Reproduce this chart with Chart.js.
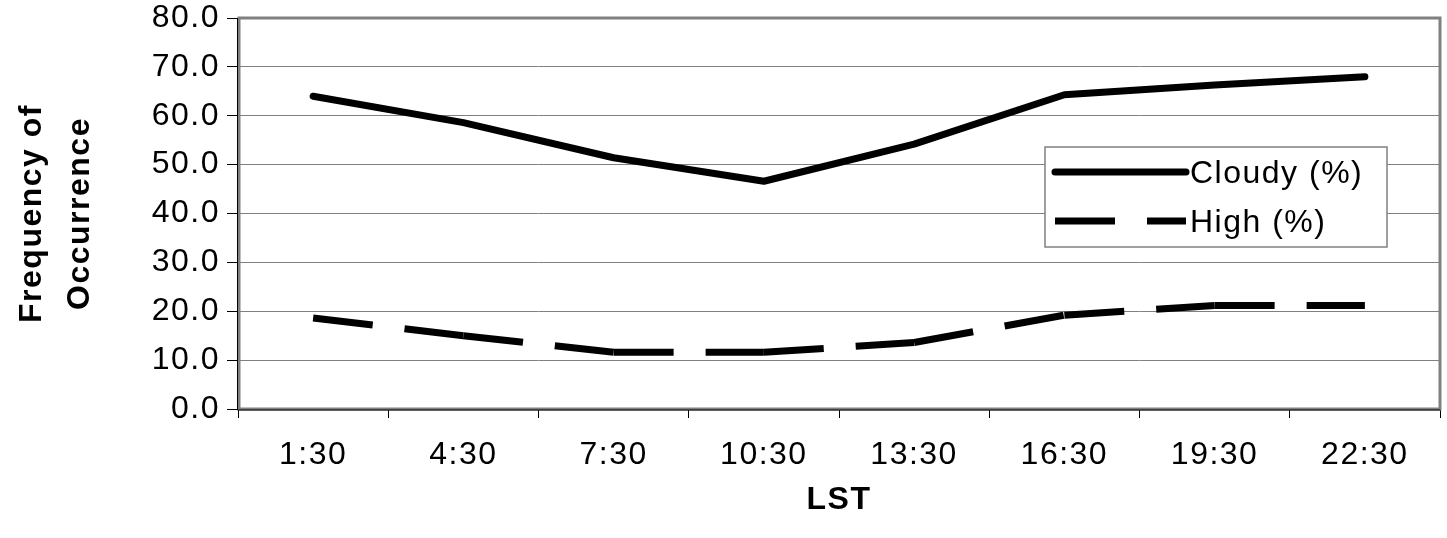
<!DOCTYPE html>
<html><head><meta charset="utf-8">
<script src="https://cdn.jsdelivr.net/npm/chart.js@4"></script>
<style>html,body{margin:0;padding:0;background:#fff;overflow:hidden}</style>
</head><body>
<canvas id="c" width="1447" height="538"></canvas>
<script>
const categories = ['1:30','4:30','7:30','10:30','13:30','16:30','19:30','22:30'];
const cloudy = [64.0, 58.6, 51.4, 46.6, 54.2, 64.3, 66.3, 68.0];
const high = [18.6, 15.0, 11.6, 11.6, 13.6, 19.2, 21.2, 21.2];
const yTickLabels = ['0.0','10.0','20.0','30.0','40.0','50.0','60.0','70.0','80.0'];
const seriesLabels = ['Cloudy (%)','High (%)'];
const xTitle = 'LST';
const yTitle = ['Frequency of','Occurrence'];

const FONT = "'Liberation Sans', Arial, sans-serif";
const LS = '1.5px';

const spacing = {
  id: 'spacing',
  beforeLayout(c){ c.ctx.letterSpacing = LS; },
  beforeDraw(c){ c.ctx.letterSpacing = LS; }
};

const frame = {
  id: 'frame',
  beforeDatasetsDraw(c){
    const {ctx, chartArea:a} = c;
    ctx.save();
    ctx.strokeStyle = '#808080';
    ctx.lineWidth = 3;
    ctx.strokeRect(a.left + 1, a.top, a.right - a.left - 1, a.bottom - a.top);
    ctx.strokeStyle = '#000';
    ctx.lineWidth = 1;
    ctx.beginPath();
    ctx.moveTo(a.left - 0.5, a.top); ctx.lineTo(a.left - 0.5, a.bottom + 1);
    ctx.lineTo(a.right, a.bottom + 1);
    ctx.stroke();
    ctx.restore();
  }
};

const legendBox = {
  id: 'legendBox',
  afterDatasetsDraw(c){
    const ctx = c.ctx;
    const bx = 1045, by = 147, bw = 342, bh = 100;
    ctx.save();
    ctx.letterSpacing = LS;
    ctx.fillStyle = '#fff';
    ctx.fillRect(bx, by, bw, bh);
    ctx.strokeStyle = '#808080';
    ctx.lineWidth = 1.5;
    ctx.strokeRect(bx, by, bw, bh);
    const rows = [172, 221];
    c.data.datasets.forEach((ds, i) => {
      const y = rows[i];
      ctx.strokeStyle = ds.borderColor;
      ctx.lineWidth = ds.borderWidth;
      ctx.lineCap = ds.borderCapStyle || 'butt';
      ctx.setLineDash(ds.borderDash || []);
      ctx.beginPath();
      ctx.moveTo(1055, y);
      ctx.lineTo(1186, y);
      ctx.stroke();
      ctx.setLineDash([]);
      ctx.fillStyle = '#000';
      ctx.font = '32px ' + FONT;
      ctx.textBaseline = 'middle';
      ctx.textAlign = 'left';
      ctx.fillText(ds.label, 1190, y + 2);
    });
    ctx.restore();
  }
};

new Chart(document.getElementById('c'), {
  type: 'line',
  data: {
    labels: categories,
    datasets: [
      {
        label: seriesLabels[0],
        data: cloudy,
        borderColor: '#000',
        borderWidth: 7,
        borderCapStyle: 'round',
        borderJoinStyle: 'round',
        pointRadius: 0,
        tension: 0,
        fill: false
      },
      {
        label: seriesLabels[1],
        data: high,
        borderColor: '#000',
        borderWidth: 7,
        borderDash: [60, 32],
        borderCapStyle: 'butt',
        borderJoinStyle: 'miter',
        pointRadius: 0,
        tension: 0,
        fill: false,
        segment: {
          borderDashOffset: ctx => (ctx.p0DataIndex % 2 ? 0.01 : 0)
        }
      }
    ]
  },
  options: {
    responsive: false,
    devicePixelRatio: 1,
    animation: false,
    layout: { padding: { top: 0, right: 7, left: 0, bottom: 0 } },
    plugins: {
      legend: { display: false },
      tooltip: { enabled: false }
    },
    scales: {
      x: {
        type: 'category',
        offset: true,
        grid: { offset: true, drawOnChartArea: false, drawTicks: true, tickLength: 9, color: '#000', lineWidth: 1 },
        border: { display: false },
        ticks: { color: '#000', font: { family: FONT, size: 32 }, padding: 18, maxRotation: 0, autoSkip: false },
        title: { display: true, text: xTitle, color: '#000', font: { family: FONT, size: 32, weight: 'bold' }, padding: { top: 0, bottom: 19 } },
        afterFit(s){ s.height = 129; }
      },
      y: {
        min: 0, max: 80,
        ticks: { stepSize: 10, color: '#000', font: { family: FONT, size: 32 }, padding: 7,
                 callback: (v, i) => yTickLabels[i] },
        grid: { color: '#808080', lineWidth: 1, tickLength: 11, tickColor: '#000' },
        border: { display: false },
        title: { display: true, text: yTitle, color: '#000', font: { family: FONT, size: 32, weight: 'bold', lineHeight: 1.5 }, padding: { top: 8, bottom: 0 } },
        afterFit(s){ s.width = 238; s.paddingTop = 18; }
      }
    }
  },
  plugins: [spacing, frame, legendBox]
});
</script>
</body></html>
